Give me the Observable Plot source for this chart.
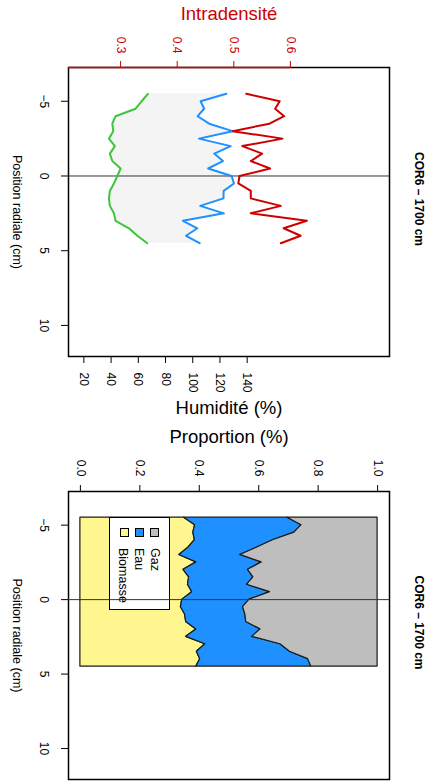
<!DOCTYPE html>
<html><head><meta charset="utf-8">
<script src="https://cdn.jsdelivr.net/npm/d3@7"></script>
<script src="https://cdn.jsdelivr.net/npm/@observablehq/plot@0.6"></script>
<style>
body{margin:0;background:#fff;}
#wrap{position:relative;width:429px;height:782px;overflow:hidden;font-family:"Liberation Sans",Arial,Helvetica,sans-serif;background:#fff;}
#wrap svg{position:absolute;left:0;}
.legend{position:absolute;left:109px;top:517px;width:59px;height:91px;border:1px solid #000;background:#fff;}
.legend .sw{position:absolute;top:10px;width:7px;height:7px;border:1px solid #000;}
.legend .lb{position:absolute;top:30px;writing-mode:vertical-rl;font-size:12.5px;line-height:14px;width:14px;color:#000;white-space:nowrap;}
</style></head><body><div id="wrap"></div>
<script>
// ---- data ----
const positions = [-5.5, -5, -4.5, -4, -3.5, -3, -2.5, -2, -1.5, -1, -0.5, 0, 0.5, 1, 1.5, 2, 2.5, 3, 3.5, 4, 4.5];
// top panel (Humidité scale): green and blue series
const humiditeVerte = [67.1, 62.4, 58.0, 43.3, 40.9, 41.6, 38.4, 42.8, 39.1, 40.9, 47.0, 44.6, 42.1, 39.1, 38.4, 39.1, 42.1, 43.3, 53.1, 59.3, 66.6];
const humiditeBleue = [124.7, 105.8, 108.4, 103.6, 112.1, 129.3, 104.6, 127.9, 115.8, 122.2, 111.3, 128.6, 130.3, 122.7, 122.6, 105.5, 122.9, 92.8, 103.4, 95.1, 105.1];
// top panel (Intradensité scale): red series
const intradensite = [0.522, 0.581, 0.573, 0.589, 0.563, 0.498, 0.586, 0.515, 0.550, 0.530, 0.564, 0.510, 0.508, 0.530, 0.530, 0.583, 0.530, 0.629, 0.588, 0.618, 0.583];
// bottom panel: proportions
const biomasse = [0.349, 0.386, 0.380, 0.385, 0.364, 0.333, 0.390, 0.347, 0.366, 0.362, 0.376, 0.343, 0.338, 0.352, 0.356, 0.390, 0.356, 0.420, 0.392, 0.403, 0.390];
const eau = [0.348, 0.358, 0.340, 0.265, 0.231, 0.205, 0.220, 0.217, 0.216, 0.199, 0.262, 0.226, 0.209, 0.203, 0.202, 0.216, 0.222, 0.253, 0.313, 0.363, 0.387];
const gaz = [0.303, 0.256, 0.280, 0.350, 0.405, 0.462, 0.390, 0.436, 0.418, 0.439, 0.362, 0.431, 0.453, 0.445, 0.442, 0.394, 0.422, 0.327, 0.295, 0.234, 0.223];
const composants = ["Biomasse", "Eau", "Gaz"];
// ticks
const posTicks = [-5, 0, 5, 10];
const humTicks = [20, 40, 60, 80, 100, 120, 140];
const densTicks = [0.3, 0.4, 0.5, 0.6];
const propTicks = [0, 0.2, 0.4, 0.6, 0.8, 1.0];
const titre = "COR6 – 1700 cm";

// ---- styles ----
const RED = "#CD0000", BLUE = "#1E90FF", GREEN = "#3CC63C";
const compColors = ["#FFF68F", "#1E90FF", "#BEBEBE"];
const FONT = "'Liberation Sans', Arial, Helvetica, sans-serif";
const yDomain = [-7.26, 12.08];
const common = {width: 429, marginLeft: 68, marginRight: 40,
  style: {fontFamily: FONT, fontSize: "12px", background: "transparent", overflow: "visible"}};
const yAxis = () => Plot.axisY({anchor: "left", ticks: posTicks, tickSize: 7, tickPadding: 13, tickRotate: 90,
  textAnchor: "middle", lineAnchor: "top", label: null, fontSize: 12});
const sideTexts = () => [
  Plot.text(["Position radiale (cm)"], {frameAnchor: "left", dx: -52, rotate: 90, fontSize: 12.5, textAnchor: "middle", lineAnchor: "middle"}),
  Plot.text([titre], {frameAnchor: "right", dx: 29, dy: -13, rotate: 90, fontSize: 12, fontWeight: "bold", textAnchor: "middle", lineAnchor: "middle"})
];

const topRows = positions.map((p, i) => ({pos: p, verte: humiditeVerte[i], bleue: humiditeBleue[i], dens: intradensite[i]}));

const topBase = Plot.plot({...common, height: 425, marginTop: 67, marginBottom: 69,
  x: {domain: [8.7, 244.6]},
  y: {domain: yDomain, reverse: true},
  marks: [
    Plot.areaX(topRows, {y: "pos", x1: "verte", x2: "bleue", fill: "#F4F4F4"}),
    Plot.ruleY([0], {stroke: "#333", strokeWidth: 1}),
    Plot.lineX(topRows, {y: "pos", x: "verte", stroke: GREEN, strokeWidth: 2}),
    Plot.lineX(topRows, {y: "pos", x: "bleue", stroke: BLUE, strokeWidth: 2}),
    Plot.frame({stroke: "#000", strokeWidth: 1.5}),
    Plot.axisX({anchor: "bottom", ticks: humTicks, tickSize: 7, tickPadding: 9, tickRotate: 90,
      textAnchor: "start", lineAnchor: "middle", label: null, fontSize: 12}),
    yAxis(),
    Plot.text(["Humidité (%)"], {frameAnchor: "bottom", dy: 52, fontSize: 18.5, lineAnchor: "middle"}),
    ...sideTexts()
  ]});

const topOver = Plot.plot({...common, height: 425, marginTop: 67, marginBottom: 69,
  x: {domain: [0.208, 0.775]},
  y: {domain: yDomain, reverse: true, axis: null},
  marks: [
    Plot.ruleY([yDomain[0]], {x1: 0.208, x2: 0.6, stroke: RED, strokeWidth: 1.5}),
    Plot.lineX(topRows, {y: "pos", x: "dens", stroke: RED, strokeWidth: 2}),
    Plot.axisX({anchor: "top", ticks: densTicks, tickFormat: d3.format(".1f"), tickSize: 7, tickPadding: 7, tickRotate: 90,
      textAnchor: "end", lineAnchor: "middle", color: RED, label: null, fontSize: 12}),
    Plot.text(["Intradensité"], {frameAnchor: "top", dy: -53, fill: RED, fontSize: 18.5, lineAnchor: "middle"})
  ]});

const stackRows = [];
const series = [biomasse, eau, gaz];
composants.forEach((c, j) => positions.forEach((p, i) => stackRows.push({pos: p, type: c, value: series[j][i]})));

const botBase = Plot.plot({...common, height: 357, marginTop: 66, marginBottom: 3,
  x: {domain: [-0.04, 1.04]},
  y: {domain: yDomain, reverse: true},
  color: {domain: composants, range: compColors},
  marks: [
    Plot.areaX(stackRows, Plot.stackX({y: "pos", x: "value", fill: "type", stroke: "#1a1a1a", strokeWidth: 1.2})),
    Plot.frame({stroke: "#000", strokeWidth: 1.5}),
    Plot.axisX({anchor: "top", ticks: propTicks, tickFormat: d3.format(".1f"), tickSize: 7, tickPadding: 8, tickRotate: 90,
      textAnchor: "end", lineAnchor: "middle", label: null, fontSize: 12}),
    yAxis(),
    Plot.text(["Proportion (%)"], {frameAnchor: "top", dy: -54, fontSize: 18.5, lineAnchor: "middle"}),
    ...sideTexts()
  ]});

const botOver = Plot.plot({...common, height: 357, marginTop: 66, marginBottom: 3,
  x: {domain: [-0.04, 1.04], axis: null},
  y: {domain: yDomain, reverse: true, axis: null},
  marks: [Plot.ruleY([0], {stroke: "#333", strokeWidth: 1})]});

const wrap = document.getElementById("wrap");
topBase.style.top = "0px"; topOver.style.top = "0px";
botBase.style.top = "425px"; botOver.style.top = "425px";
wrap.append(topBase, topOver, botBase);

// legend
const lg = document.createElement("div");
lg.className = "legend";
const swLeft = [10, 25, 40], lbLeft = [6, 22, 37.5];
composants.forEach((c, j) => {
  const s = document.createElement("div");
  s.className = "sw"; s.style.left = swLeft[j] + "px"; s.style.background = compColors[j];
  const t = document.createElement("div");
  t.className = "lb"; t.style.left = lbLeft[j] + "px"; t.textContent = c;
  lg.append(s, t);
});
wrap.append(lg, botOver);
</script>
</body></html>
